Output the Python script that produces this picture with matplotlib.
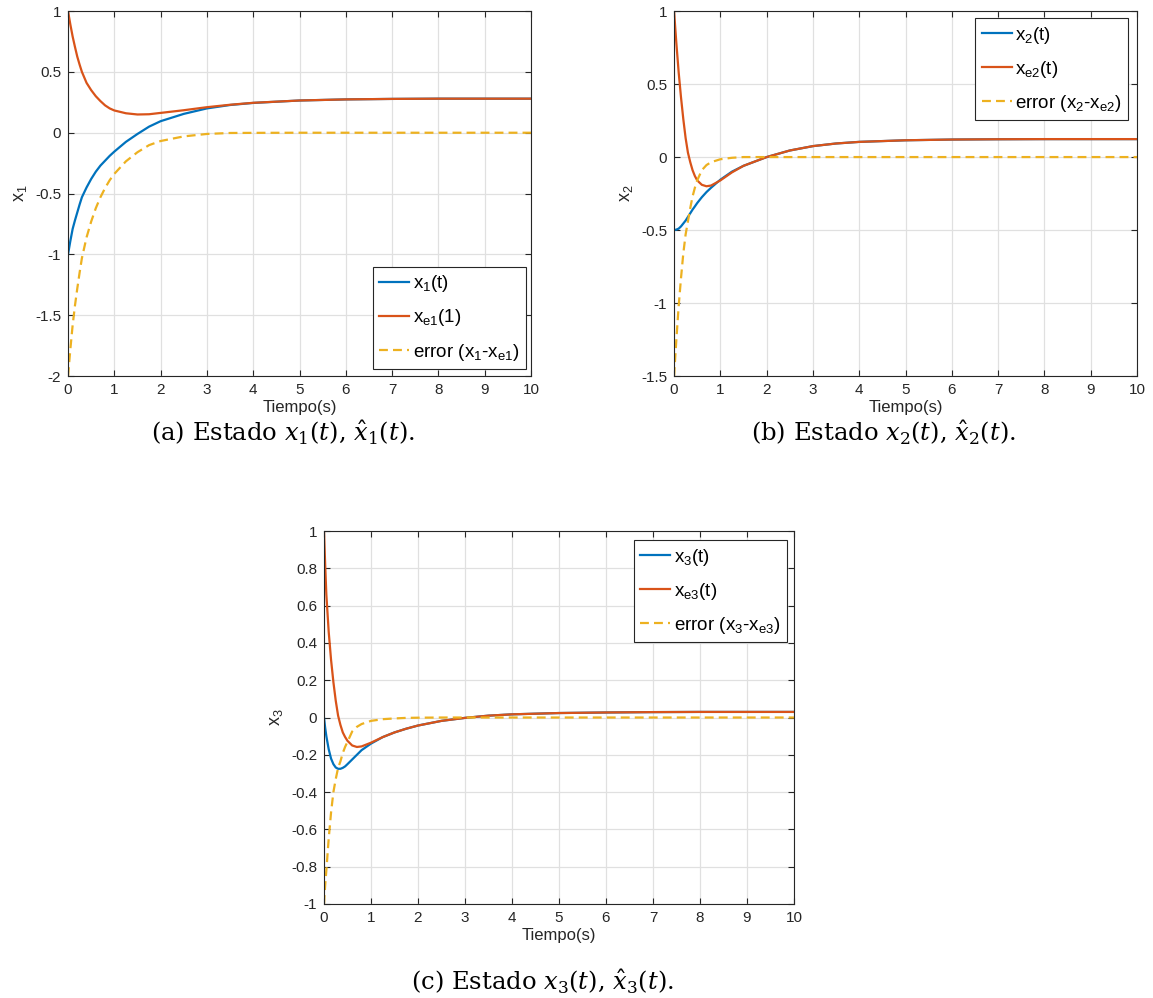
import numpy as np
import matplotlib
matplotlib.use('Agg')
import matplotlib.pyplot as plt
from matplotlib.ticker import FuncFormatter

plt.rcParams['font.family'] = ['Liberation Sans', 'DejaVu Sans']
plt.rcParams['mathtext.default'] = 'regular'
plt.rcParams['axes.unicode_minus'] = False

# colores por defecto de MATLAB
c_azul = '#0072BD'
c_naranja = '#D95319'
c_amarillo = '#EDB120'

# ---- estado x1 ----
t_a = [0, 0.05, 0.1, 0.15, 0.2, 0.25, 0.3, 0.4, 0.5, 0.6, 0.7, 0.8, 0.9, 1.0,
       1.25, 1.5, 1.75, 2.0, 2.5, 3.0, 3.5, 4.0, 5.0, 6.0, 7.0, 8.0, 10.0]
x1 = [-1.0, -0.89, -0.79, -0.72, -0.655, -0.59, -0.53, -0.45, -0.38, -0.32,
      -0.27, -0.23, -0.19, -0.155, -0.075, -0.01, 0.05, 0.095, 0.155, 0.2,
      0.228, 0.245, 0.265, 0.274, 0.278, 0.28, 0.28]
xe1 = [1.0, 0.89, 0.79, 0.705, 0.625, 0.56, 0.5, 0.41, 0.35, 0.3, 0.26, 0.225,
       0.2, 0.183, 0.16, 0.15, 0.152, 0.163, 0.185, 0.21, 0.23, 0.246, 0.265,
       0.274, 0.278, 0.28, 0.28]
e1 = [-2.0, -1.78, -1.58, -1.42, -1.28, -1.15, -1.03, -0.86, -0.73, -0.62,
      -0.53, -0.455, -0.39, -0.338, -0.235, -0.16, -0.102, -0.068, -0.03,
      -0.01, -0.002, -0.001, 0, 0, 0, 0, 0]

# ---- estado x2 ----
t_b = [0, 0.05, 0.1, 0.15, 0.2, 0.25, 0.3, 0.35, 0.4, 0.45, 0.5, 0.6, 0.7,
       0.8, 1.0, 1.25, 1.5, 1.75, 2.0, 2.5, 3.0, 3.5, 4.0, 5.0, 6.0, 7.0, 8.0,
       10.0]
x2 = [-0.5, -0.497, -0.49, -0.475, -0.455, -0.435, -0.41, -0.385, -0.36,
      -0.338, -0.315, -0.275, -0.24, -0.21, -0.155, -0.1, -0.06, -0.03, 0.0,
      0.045, 0.075, 0.093, 0.104, 0.115, 0.12, 0.122, 0.123, 0.123]
xe2 = [1.0, 0.78, 0.58, 0.41, 0.26, 0.13, 0.03, -0.035, -0.09, -0.13, -0.16,
       -0.19, -0.2, -0.195, -0.16, -0.105, -0.06, -0.03, 0.0, 0.045, 0.075,
       0.093, 0.104, 0.115, 0.12, 0.122, 0.123, 0.123]
e2 = [-1.5, -1.25, -1.02, -0.83, -0.66, -0.53, -0.44, -0.35, -0.27, -0.21,
      -0.16, -0.09, -0.055, -0.035, -0.015, -0.005, 0, 0, 0, 0, 0, 0, 0, 0,
      0, 0, 0, 0]

# ---- estado x3 ----
t_c = [0, 0.025, 0.05, 0.1, 0.15, 0.2, 0.25, 0.3, 0.35, 0.4, 0.45, 0.5, 0.6,
       0.7, 0.8, 1.0, 1.25, 1.5, 1.75, 2.0, 2.5, 3.0, 3.5, 4.0, 5.0, 6.0, 7.0,
       8.0, 10.0]
x3 = [0.0, -0.055, -0.1, -0.17, -0.22, -0.25, -0.268, -0.275, -0.275, -0.27,
      -0.262, -0.25, -0.225, -0.2, -0.175, -0.14, -0.105, -0.08, -0.06,
      -0.043, -0.018, -0.002, 0.01, 0.017, 0.024, 0.027, 0.029, 0.03, 0.03]
xe3 = [1.0, 0.82, 0.66, 0.46, 0.31, 0.19, 0.09, 0.01, -0.04, -0.08, -0.105,
       -0.125, -0.15, -0.158, -0.155, -0.135, -0.105, -0.08, -0.06, -0.043,
       -0.018, -0.002, 0.01, 0.017, 0.024, 0.027, 0.029, 0.03, 0.03]
e3 = [-1.0, -0.9, -0.82, -0.65, -0.51, -0.4, -0.33, -0.27, -0.235, -0.19,
      -0.157, -0.13, -0.075, -0.05, -0.035, -0.018, -0.009, -0.005, -0.002,
      -0.001, 0, 0, 0, 0, 0, 0, 0, 0, 0]

xticks = [0, 1, 2, 3, 4, 5, 6, 7, 8, 9, 10]
yticks_a = [-2, -1.5, -1, -0.5, 0, 0.5, 1]
yticks_b = [-1.5, -1, -0.5, 0, 0.5, 1]
yticks_c = [-1, -0.8, -0.6, -0.4, -0.2, 0, 0.2, 0.4, 0.6, 0.8, 1]

fig = plt.figure(figsize=(11.53, 9.98), dpi=100)


def fmt(v, pos):
    return f'{round(v, 2) + 0:g}'


def dibujar(rect, t, x, xe, e, yticks, ylabel, labels, loc, anchor):
    ax = fig.add_axes(rect)
    ax.plot(t, x, color=c_azul, lw=1.6, label=labels[0])
    ax.plot(t, xe, color=c_naranja, lw=1.6, label=labels[1])
    ax.plot(t, e, color=c_amarillo, lw=1.6, ls=(0, (4, 2.3)), label=labels[2])
    ax.set_xlim(0, 10)
    ax.set_ylim(yticks[0], yticks[-1])
    ax.set_xticks(xticks)
    ax.set_yticks(yticks)
    ax.xaxis.set_major_formatter(FuncFormatter(fmt))
    ax.yaxis.set_major_formatter(FuncFormatter(fmt))
    ax.grid(True, color='0.88', lw=0.9)
    ax.set_axisbelow(True)
    ax.tick_params(direction='in', top=True, right=True, length=4,
                   width=0.8, colors='0.15', labelsize=11, pad=5)
    for s in ax.spines.values():
        s.set_color('0.15')
        s.set_linewidth(0.8)
    ax.set_xlabel('Tiempo(s)', fontsize=12, color='0.15', labelpad=2)
    ax.set_ylabel(ylabel, fontsize=13, color='0.15', labelpad=4)
    leg = ax.legend(loc=loc, bbox_to_anchor=anchor, borderaxespad=0,
                    fontsize=13.5, fancybox=False, framealpha=1,
                    edgecolor='0.15', handlelength=1.6, handletextpad=0.2,
                    labelspacing=0.7, borderpad=0.35)
    leg.get_frame().set_linewidth(0.8)
    return ax


dibujar([0.0590, 0.6232, 0.4016, 0.3657], t_a, x1, xe1, e1, yticks_a, 'x$_1$',
        ['x$_1$(t)', 'x$_{e1}$(1)', 'error (x$_1$-x$_{e1}$)'],
        'lower right', (0.989, 0.019))
dibujar([0.5846, 0.6232, 0.4016, 0.3657], t_b, x2, xe2, e2, yticks_b, 'x$_2$',
        ['x$_2$(t)', 'x$_{e2}$(t)', 'error (x$_2$-x$_{e2}$)'],
        'upper right', (0.981, 0.981))
dibujar([0.2810, 0.0942, 0.4076, 0.3737], t_c, x3, xe3, e3, yticks_c, 'x$_3$',
        ['x$_3$(t)', 'x$_{e3}$(t)', 'error (x$_3$-x$_{e3}$)'],
        'upper right', (0.985, 0.976))

# pies de figura
cap = dict(fontsize=17.5, family='DejaVu Serif', ha='center', va='center',
           math_fontfamily='dejavuserif')
fig.text(283 / 1153, 1 - 433 / 998,
         r'(a) Estado $\mathit{x}_1(\mathit{t})$, $\hat{\mathit{x}}_1(\mathit{t})$.', **cap)
fig.text(883 / 1153, 1 - 433 / 998,
         r'(b) Estado $\mathit{x}_2(\mathit{t})$, $\hat{\mathit{x}}_2(\mathit{t})$.', **cap)
fig.text(542 / 1153, 1 - 982 / 998,
         r'(c) Estado $\mathit{x}_3(\mathit{t})$, $\hat{\mathit{x}}_3(\mathit{t})$.', **cap)

fig.savefig('out.png', dpi=100)
